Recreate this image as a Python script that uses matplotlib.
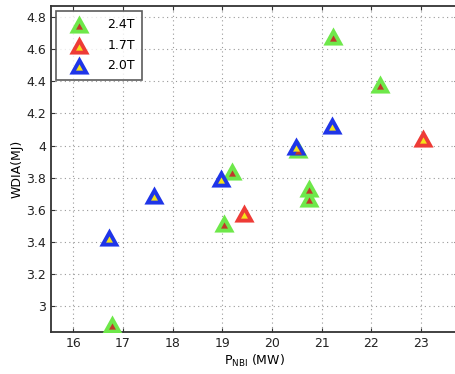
import matplotlib
matplotlib.use("Agg")
import matplotlib.pyplot as plt
from matplotlib.lines import Line2D
from matplotlib.legend_handler import HandlerTuple

# P_NBI (MW) vs WDIA (MJ)
x_24 = [16.78, 19.2, 19.03, 20.52, 21.22, 22.18, 20.74, 20.74]
y_24 = [2.89, 3.84, 3.52, 3.98, 4.68, 4.38, 3.735, 3.675]
x_17 = [23.05, 19.43]
y_17 = [4.05, 3.58]
x_20 = [16.71, 17.62, 18.98, 20.48, 21.2]
y_20 = [3.43, 3.69, 3.80, 4.00, 4.125]

series = [
    ("2.4T", x_24, y_24, "#6ee84a", "#c0392b"),
    ("1.7T", x_17, y_17, "#ee3b36", "#f4e21a"),
    ("2.0T", x_20, y_20, "#1f35e8", "#f4e21a"),
]

# outer triangle centred on its box, inner one sits lower (at the outer centroid)
outer_tri = [(0, 0.9), (-1, -0.9), (1, -0.9), (0, 0.9)]
inner_tri = [(0, 0.8), (-2.5, -3.7), (2.5, -3.7), (0, 0.8)]
big, small = 14.5, 7.4

fig = plt.figure(figsize=(4.55, 3.74), dpi=100)
ax = fig.add_axes([0.112, 0.112, 0.895, 0.872])

handles = []
for name, xs, ys, outer, inner in series:
    ax.plot(xs, ys, linestyle="none", marker=outer_tri, markersize=big,
            color=outer, markeredgewidth=0, zorder=3)
    ax.plot(xs, ys, linestyle="none", marker=inner_tri, markersize=small,
            color=inner, markeredgewidth=0, zorder=4)
    handles.append((Line2D([], [], linestyle="none", marker=outer_tri, markersize=big,
                           color=outer, markeredgewidth=0),
                    Line2D([], [], linestyle="none", marker=inner_tri, markersize=small,
                           color=inner, markeredgewidth=0)))

ax.set_xlim(15.55, 23.75)
ax.set_ylim(2.84, 4.868)
ax.set_xticks([16, 17, 18, 19, 20, 21, 22, 23])
ax.set_yticks([3, 3.2, 3.4, 3.6, 3.8, 4, 4.2, 4.4, 4.6, 4.8])
ax.set_yticklabels(["3", "3.2", "3.4", "3.6", "3.8", "4", "4.2", "4.4", "4.6", "4.8"])
ax.grid(True, linestyle=(0, (1, 3)), color="#999999", linewidth=0.8)
ax.tick_params(direction="in", top=True, right=True, labelsize=9, length=3,
               colors="#333333", labelcolor="#222222")
for s in ax.spines.values():
    s.set_linewidth(1.3)
    s.set_color("#333333")

ax.set_xlabel("P$_\\mathregular{NBI}$ (MW)", fontsize=9, labelpad=2)
ax.set_ylabel("WDIA(MJ)", fontsize=9, labelpad=2)

leg = ax.legend(handles, [s[0] for s in series], loc="upper left",
                handler_map={tuple: HandlerTuple(ndivide=1)},
                fontsize=9, frameon=True, fancybox=False, borderpad=0.6,
                labelspacing=0.6, handlelength=2.5, handletextpad=1.0,
                borderaxespad=0.4)
leg.get_frame().set_edgecolor("#333333")
leg.get_frame().set_linewidth(1.2)

fig.savefig("out.png", dpi=100)
